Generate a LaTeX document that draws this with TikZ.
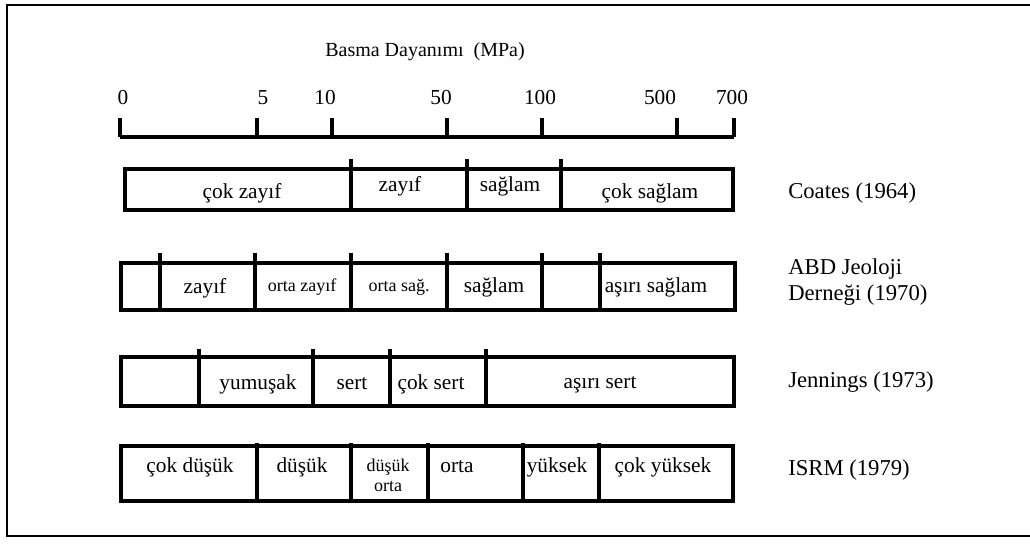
\documentclass[tikz,border=0pt]{standalone}
\usepackage{fontspec}
\setmainfont{Liberation Serif}
\begin{document}
\begin{tikzpicture}[x=0.75pt,y=-0.75pt,
  frame/.style={line width=1.2pt},
  box/.style={line width=2.5pt},
  lbl/.style={font=\fontsize{16}{18}\selectfont, inner sep=0pt},
  sm/.style={font=\fontsize{13.5}{15}\selectfont, inner sep=0pt, align=center},
  src/.style={font=\fontsize{17}{20}\selectfont, inner sep=0pt, anchor=west, align=left},
  num/.style={font=\fontsize{16}{18}\selectfont, inner sep=0pt},
  ttl/.style={font=\fontsize{15}{18}\selectfont, inner sep=0pt}]
\useasboundingbox (0,0) rectangle (1030,543);
% outer frame (open on the right)
\draw[frame] (1030,5) -- (7,5) -- (7,536) -- (1030,536);

% scale
\node[ttl] (title) at (425,52) {Basma Dayanımı\ \ (MPa)};
\coordinate (a0) at (120,137);
\coordinate (a700) at (734,137);
\draw[box] (a0) -- (a700);
\foreach \x/\lab/\lx [count=\i] in {120/0/123, 257/5/263, 332/10/325, 447/50/441, 542/100/540, 677/500/660, 734/700/732}{
  \draw[box] (\x,137) -- (\x,118);
  \node[num] (n\i) at (\lx,98) {\lab};
}

% Coates (1964)
\draw[box] (125,169) rectangle (733,210);
\foreach \x in {351,467,561}{\draw[box] (\x,159) -- (\x,210);}
\node[lbl] (c1) at (242,193) {çok zayıf};
\node[lbl] (c2) at (400,186) {zayıf};
\node[lbl] (c3) at (510,186) {sağlam};
\node[lbl] (c4) at (650,193) {çok sağlam};
\node[src] (coates) at (788,193) {Coates (1964)};

% ABD Jeoloji Dernegi (1970)
\draw[box] (121,263) rectangle (735,310);
\foreach \x in {160,255,351,447,542,600}{\draw[box] (\x,253) -- (\x,310);}
\node[lbl] (b1) at (205,288) {zayıf};
\node[sm] (b2) at (302,287) {orta zayıf};
\node[sm] (b3) at (399,287) {orta sağ.};
\node[lbl] (b4) at (494,287) {sağlam};
\node[lbl] (b5) at (656,287) {aşırı sağlam};
\node[src] (abd) at (788,282) {ABD Jeoloji\\Derneği (1970)};

% Jennings (1973)
\draw[box] (121,357) rectangle (734,406);
\foreach \x in {199,313,390,486}{\draw[box] (\x,349) -- (\x,406);}
\node[lbl] (j1) at (258,384) {yumuşak};
\node[lbl] (j2) at (352,384) {sert};
\node[lbl] (j3) at (431,384) {çok sert};
\node[lbl] (j4) at (600,385) {aşırı sert};
\node[src] (jennings) at (788,382) {Jennings (1973)};

% ISRM (1979)
\draw[box] (121,446) rectangle (733,501);
\foreach \x in {257,351,428,523,599}{\draw[box] (\x,443) -- (\x,501);}
\node[lbl] (i1) at (190,467) {çok düşük};
\node[lbl] (i2) at (302,467) {düşük};
\node[sm] (i3) at (388,475) {düşük\\orta};
\node[lbl] (i4) at (457,467) {orta};
\node[lbl] (i5) at (557,467) {yüksek};
\node[lbl] (i6) at (663,467) {çok yüksek};
\node[src] (isrm) at (788,470) {ISRM (1979)};
\end{tikzpicture}
\end{document}
